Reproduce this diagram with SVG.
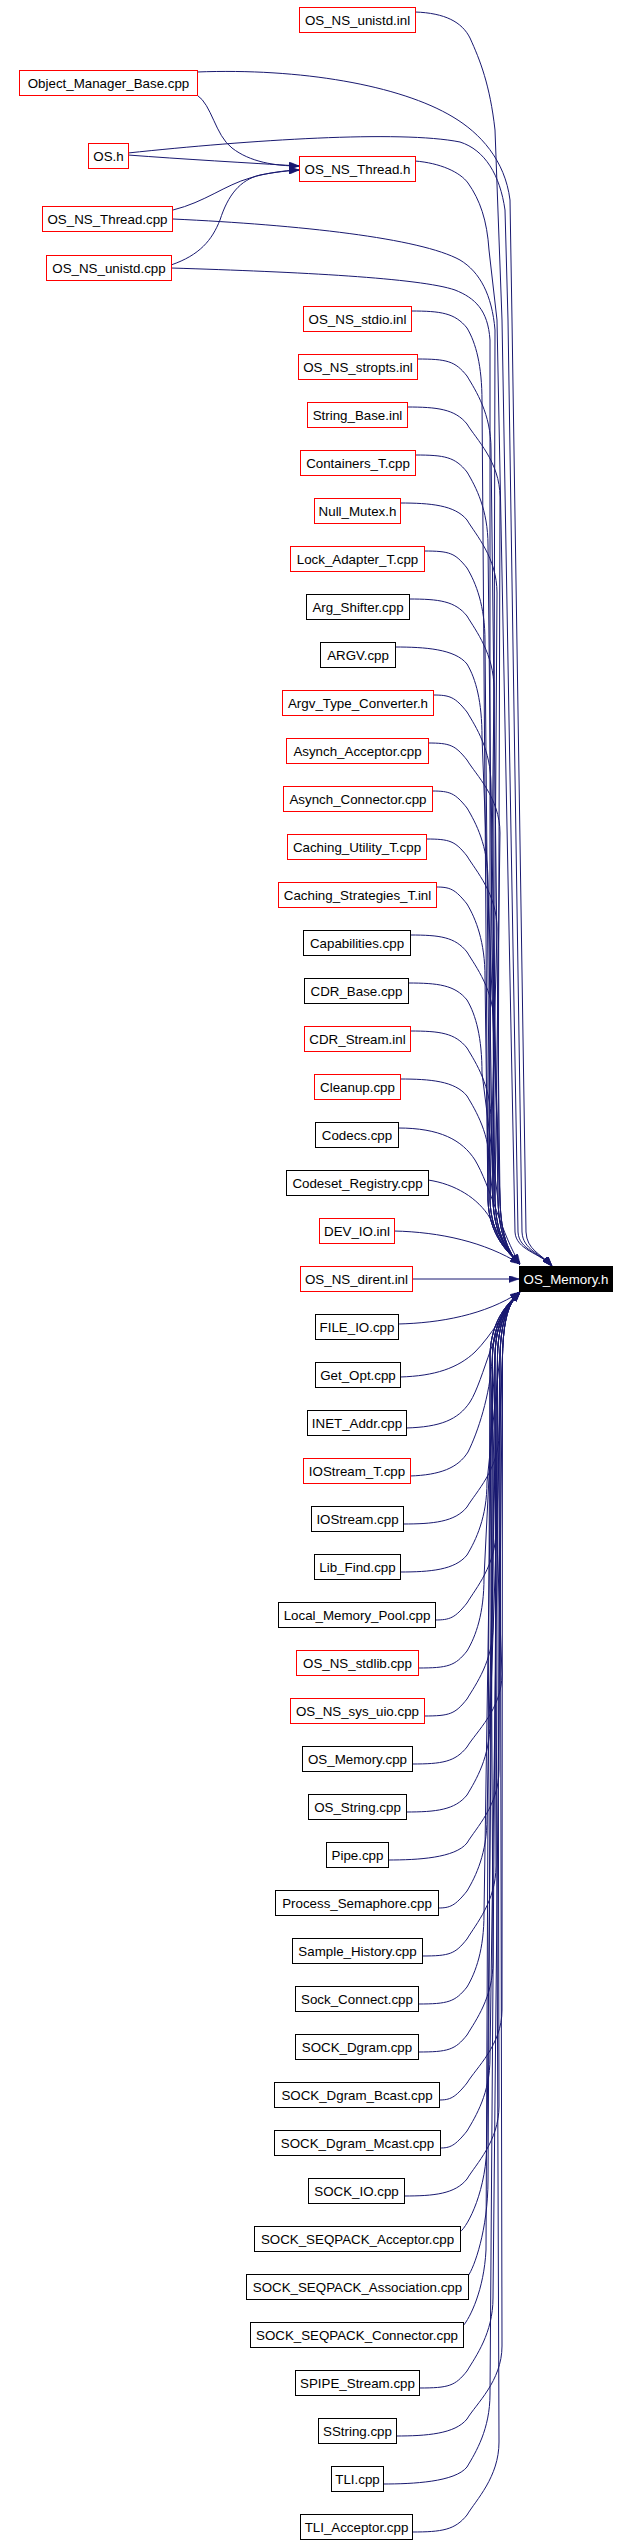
<svg xmlns="http://www.w3.org/2000/svg" width="630" height="2544" viewBox="0 0 630 2544">
<style>
.e{fill:none;stroke:#191970;stroke-width:1;marker-end:url(#ah)}
rect{fill:#fff;stroke:#000;stroke-width:1}
.r rect{stroke:#f00}
.k rect{fill:#000;stroke:#000}
text{font-family:"Liberation Sans",Arial,Helvetica,sans-serif;font-size:13.33px;text-anchor:middle;fill:#000}
.k text{fill:#fff}
</style>
<defs>
<marker id="ah" viewBox="0 0 10 7" refX="10" refY="3.5" markerWidth="10" markerHeight="7" markerUnits="userSpaceOnUse" orient="auto"><path d="M0,0 L10,3.5 L0,7 z" fill="#191970" stroke="#191970" stroke-width="0.5"/></marker>
</defs>
<rect x="0" y="0" width="630" height="2544" style="fill:#fff;stroke:none"/>
<g id="edges">
<path class="e" d="M197,95 C212,105 215,135 232,148 C250,162 275,166 299,166"/>
<path class="e" d="M128,155 C180,159 250,163 299,166"/>
<path class="e" d="M173,210 C205,202 225,185 250,178 C265,173 285,171 299,170"/>
<path class="e" d="M171,265 C200,255 212,240 220,220 C228,195 240,180 260,175 C275,172 290,170 299,170"/>
<path class="e" d="M415,12 C445,13 462,22 470,38 C480,60 490,85 495,130 L502,320 L518,1232 C519,1250 540,1253 552,1266"/>
<path class="e" d="M197,72 C300,68 400,85 453,117 C480,133 505,160 510,200 L512,320 L526,1232 C527,1250 540,1253 552,1266"/>
<path class="e" d="M128,153 C250,140 400,130 460,142 C485,150 500,175 505,210 L508,320 L522,1232 C523,1250 540,1253 552,1266"/>
<path class="e" d="M415,161 C440,163 460,172 468,183 C480,200 487,220 489,250 L497,320 L515,1232 C516,1250 540,1253 552,1266"/>
<path class="e" d="M173,219 C300,225 420,238 460,260 C480,272 492,295 495,330 L493,1200 C494,1235 508,1253 520,1264"/>
<path class="e" d="M171,268 C300,272 420,278 455,290 C475,298 488,310 490,340 L490,1200 C491,1235 508,1253 520,1264"/>
<path class="e" d="M411,311 C441,311 455,313 467,328 C476,343 482,366 482,401 L488,1200 C489,1235 508,1253 520,1264"/>
<path class="e" d="M417,359 C447,359 455,361 467,376 C476,391 491,414 491,449 L500,1200 C501,1235 508,1253 520,1264"/>
<path class="e" d="M407,407 C437,407 455,409 467,424 C476,439 500,462 500,497 L498,1200 C499,1235 508,1253 520,1264"/>
<path class="e" d="M415,455 C445,455 455,457 467,472 C476,487 488,510 488,545 L495,1200 C496,1235 508,1253 520,1264"/>
<path class="e" d="M400,503 C430,503 455,505 467,520 C476,535 497,558 497,593 L493,1200 C494,1235 508,1253 520,1264"/>
<path class="e" d="M424,551 C450,551 455,553 467,568 C476,583 485,606 485,641 L490,1200 C491,1235 508,1253 520,1264"/>
<path class="e" d="M409,599 C439,599 455,601 467,616 C476,631 494,654 494,689 L488,1200 C489,1235 508,1253 520,1264"/>
<path class="e" d="M395,647 C425,647 455,649 467,664 C476,679 482,702 482,737 L500,1200 C501,1235 508,1253 520,1264"/>
<path class="e" d="M433,695 C450,695 455,697 467,712 C476,727 491,750 491,785 L498,1200 C499,1235 508,1253 520,1264"/>
<path class="e" d="M428,743 C450,743 455,745 467,760 C476,775 500,798 500,833 L495,1200 C496,1235 508,1253 520,1264"/>
<path class="e" d="M432,791 C450,791 455,793 467,808 C476,823 488,846 488,881 L493,1200 C494,1235 508,1253 520,1264"/>
<path class="e" d="M426,839 C450,839 455,841 467,856 C476,871 497,894 497,929 L490,1200 C491,1235 508,1253 520,1264"/>
<path class="e" d="M436,887 C450,887 455,889 467,904 C476,919 485,942 485,977 L488,1200 C489,1235 508,1253 520,1264"/>
<path class="e" d="M410,935 C440,935 455,937 467,952 C476,967 494,990 494,1025 L500,1200 C501,1235 508,1253 520,1264"/>
<path class="e" d="M408,983 C438,983 455,985 467,1000 C476,1015 482,1038 482,1073 L498,1200 C499,1235 508,1253 520,1264"/>
<path class="e" d="M410,1031 C440,1031 455,1033 467,1048 C476,1063 491,1086 491,1121 L495,1200 C496,1235 508,1253 520,1264"/>
<path class="e" d="M400,1079 C430,1079 455,1081 467,1096 C476,1111 490,1134 490,1169 L493,1200 C494,1235 508,1253 520,1264"/>
<path class="e" d="M398,1128 C440,1128 462,1140 475,1160 C490,1185 502,1235 520,1264"/>
<path class="e" d="M428,1180 C455,1184 478,1198 490,1218 C498,1233 508,1252 520,1264"/>
<path class="e" d="M394,1231 C440,1232 485,1242 520,1264"/>
<path class="e" d="M412,1279 L519,1279"/>
<path class="e" d="M398,1324 C440,1323 485,1315 520,1292"/>
<path class="e" d="M400,1377 C435,1376 458,1368 475,1352 C492,1335 505,1310 520,1292"/>
<path class="e" d="M406,1428 C440,1427 458,1420 470,1402 C484,1380 495,1320 520,1292"/>
<path class="e" d="M410,1476 C440,1475 458,1468 468,1452 C478,1432 490,1395 492,1360 C494,1320 508,1303 520,1292"/>
<path class="e" d="M403,1524 C433,1524 455,1522 467,1507 C476,1492 499,1469 499,1434 L502.5,1355 C503.5,1320 508,1303 520,1292"/>
<path class="e" d="M400,1572 C430,1572 455,1570 467,1555 C476,1540 487,1517 487,1482 L500,1355 C501,1320 508,1303 520,1292"/>
<path class="e" d="M435,1620 C450,1620 455,1618 467,1603 C476,1588 496,1565 496,1530 L497.5,1355 C498.5,1320 508,1303 520,1292"/>
<path class="e" d="M418,1668 C448,1668 455,1666 467,1651 C476,1636 484,1613 484,1578 L495,1355 C496,1320 508,1303 520,1292"/>
<path class="e" d="M424,1716 C450,1716 455,1714 467,1699 C476,1684 493,1661 493,1626 L492.5,1355 C493.5,1320 508,1303 520,1292"/>
<path class="e" d="M412,1764 C442,1764 455,1762 467,1747 C476,1732 502,1709 502,1674 L490,1355 C491,1320 508,1303 520,1292"/>
<path class="e" d="M406,1812 C436,1812 455,1810 467,1795 C476,1780 490,1757 490,1722 L502.5,1355 C503.5,1320 508,1303 520,1292"/>
<path class="e" d="M388,1860 C418,1860 455,1858 467,1843 C476,1828 499,1805 499,1770 L500,1355 C501,1320 508,1303 520,1292"/>
<path class="e" d="M438,1908 C450,1908 455,1906 467,1891 C476,1876 487,1853 487,1818 L497.5,1355 C498.5,1320 508,1303 520,1292"/>
<path class="e" d="M422,1956 C450,1956 455,1954 467,1939 C476,1924 496,1901 496,1866 L495,1355 C496,1320 508,1303 520,1292"/>
<path class="e" d="M418,2004 C448,2004 455,2002 467,1987 C476,1972 484,1949 484,1914 L492.5,1355 C493.5,1320 508,1303 520,1292"/>
<path class="e" d="M418,2052 C448,2052 455,2050 467,2035 C476,2020 493,1997 493,1962 L490,1355 C491,1320 508,1303 520,1292"/>
<path class="e" d="M439,2100 C450,2100 455,2098 467,2083 C476,2068 502,2045 502,2010 L502.5,1355 C503.5,1320 508,1303 520,1292"/>
<path class="e" d="M440,2148 C450,2148 455,2146 467,2131 C476,2116 490,2093 490,2058 L500,1355 C501,1320 508,1303 520,1292"/>
<path class="e" d="M404,2196 C434,2196 455,2194 467,2179 C476,2164 499,2141 499,2106 L497.5,1355 C498.5,1320 508,1303 520,1292"/>
<path class="e" d="M460,2232 C468,2226 487,2190 487,2140 L495,1355 C496,1320 508,1303 520,1292"/>
<path class="e" d="M468,2276 C474,2268 488,2230 488,2180 L492.5,1355 C493.5,1320 508,1303 520,1292"/>
<path class="e" d="M463,2326 C470,2318 484,2290 486,2250 L490,1355 C491,1320 508,1303 520,1292"/>
<path class="e" d="M419,2388 C449,2388 455,2386 467,2371 C476,2356 493,2333 493,2298 L502.5,1355 C503.5,1320 508,1303 520,1292"/>
<path class="e" d="M396,2436 C426,2436 455,2434 467,2419 C476,2404 502,2381 502,2346 L500,1355 C501,1320 508,1303 520,1292"/>
<path class="e" d="M383,2484 C413,2484 455,2482 467,2467 C476,2452 490,2429 490,2394 L497.5,1355 C498.5,1320 508,1303 520,1292"/>
<path class="e" d="M412,2532 C442,2532 455,2530 467,2515 C476,2500 499,2477 499,2442 L495,1355 C496,1320 508,1303 520,1292"/>
</g>
<g id="OS_Memory_h" class="k"><rect x="519.5" y="1266.5" width="93" height="25"/><text x="566" y="1283.5">OS_Memory.h</text></g>
<g id="OS_NS_unistd_inl" class="r"><rect x="299.5" y="7.5" width="116" height="25"/><text x="357.5" y="24.5">OS_NS_unistd.inl</text></g>
<g id="Object_Manager_Base_cpp" class="r"><rect x="19.5" y="70.5" width="178" height="25"/><text x="108.5" y="87.5">Object_Manager_Base.cpp</text></g>
<g id="OS_h" class="r"><rect x="88.5" y="143.5" width="40" height="25"/><text x="108.5" y="160.5">OS.h</text></g>
<g id="OS_NS_Thread_h" class="r"><rect x="299.5" y="156.5" width="116" height="25"/><text x="357.5" y="173.5">OS_NS_Thread.h</text></g>
<g id="OS_NS_Thread_cpp" class="r"><rect x="42.5" y="206.5" width="130" height="25"/><text x="107.5" y="223.5">OS_NS_Thread.cpp</text></g>
<g id="OS_NS_unistd_cpp" class="r"><rect x="46.5" y="255.5" width="125" height="25"/><text x="109" y="272.5">OS_NS_unistd.cpp</text></g>
<g id="n0" class="r"><rect x="303.5" y="306.5" width="108" height="25"/><text x="357.5" y="323.5">OS_NS_stdio.inl</text></g>
<g id="n1" class="r"><rect x="298.5" y="354.5" width="119" height="25"/><text x="358" y="371.5">OS_NS_stropts.inl</text></g>
<g id="n2" class="r"><rect x="307.5" y="402.5" width="100" height="25"/><text x="357.5" y="419.5">String_Base.inl</text></g>
<g id="n3" class="r"><rect x="300.5" y="450.5" width="115" height="25"/><text x="358" y="467.5">Containers_T.cpp</text></g>
<g id="n4" class="r"><rect x="314.5" y="498.5" width="86" height="25"/><text x="357.5" y="515.5">Null_Mutex.h</text></g>
<g id="n5" class="r"><rect x="290.5" y="546.5" width="134" height="25"/><text x="357.5" y="563.5">Lock_Adapter_T.cpp</text></g>
<g id="n6"><rect x="306.5" y="594.5" width="103" height="25"/><text x="358" y="611.5">Arg_Shifter.cpp</text></g>
<g id="n7"><rect x="320.5" y="642.5" width="75" height="25"/><text x="358" y="659.5">ARGV.cpp</text></g>
<g id="n8" class="r"><rect x="282.5" y="690.5" width="151" height="25"/><text x="358" y="707.5">Argv_Type_Converter.h</text></g>
<g id="n9" class="r"><rect x="286.5" y="738.5" width="142" height="25"/><text x="357.5" y="755.5">Asynch_Acceptor.cpp</text></g>
<g id="n10" class="r"><rect x="283.5" y="786.5" width="149" height="25"/><text x="358" y="803.5">Asynch_Connector.cpp</text></g>
<g id="n11" class="r"><rect x="287.5" y="834.5" width="139" height="25"/><text x="357" y="851.5">Caching_Utility_T.cpp</text></g>
<g id="n12" class="r"><rect x="278.5" y="882.5" width="158" height="25"/><text x="357.5" y="899.5">Caching_Strategies_T.inl</text></g>
<g id="n13"><rect x="303.5" y="930.5" width="107" height="25"/><text x="357" y="947.5">Capabilities.cpp</text></g>
<g id="n14"><rect x="304.5" y="978.5" width="104" height="25"/><text x="356.5" y="995.5">CDR_Base.cpp</text></g>
<g id="n15" class="r"><rect x="304.5" y="1026.5" width="106" height="25"/><text x="357.5" y="1043.5">CDR_Stream.inl</text></g>
<g id="n16" class="r"><rect x="314.5" y="1074.5" width="86" height="25"/><text x="357.5" y="1091.5">Cleanup.cpp</text></g>
<g id="n17"><rect x="315.5" y="1122.5" width="83" height="25"/><text x="357" y="1139.5">Codecs.cpp</text></g>
<g id="n18"><rect x="286.5" y="1170.5" width="142" height="25"/><text x="357.5" y="1187.5">Codeset_Registry.cpp</text></g>
<g id="n19" class="r"><rect x="319.5" y="1218.5" width="75" height="25"/><text x="357" y="1235.5">DEV_IO.inl</text></g>
<g id="n20" class="r"><rect x="300.5" y="1266.5" width="112" height="25"/><text x="356.5" y="1283.5">OS_NS_dirent.inl</text></g>
<g id="n21"><rect x="315.5" y="1314.5" width="83" height="25"/><text x="357" y="1331.5">FILE_IO.cpp</text></g>
<g id="n22"><rect x="315.5" y="1362.5" width="85" height="25"/><text x="358" y="1379.5">Get_Opt.cpp</text></g>
<g id="n23"><rect x="307.5" y="1410.5" width="99" height="25"/><text x="357" y="1427.5">INET_Addr.cpp</text></g>
<g id="n24" class="r"><rect x="303.5" y="1458.5" width="107" height="25"/><text x="357" y="1475.5">IOStream_T.cpp</text></g>
<g id="n25"><rect x="311.5" y="1506.5" width="92" height="25"/><text x="357.5" y="1523.5">IOStream.cpp</text></g>
<g id="n26"><rect x="314.5" y="1554.5" width="86" height="25"/><text x="357.5" y="1571.5">Lib_Find.cpp</text></g>
<g id="n27"><rect x="278.5" y="1602.5" width="157" height="25"/><text x="357" y="1619.5">Local_Memory_Pool.cpp</text></g>
<g id="n28" class="r"><rect x="296.5" y="1650.5" width="122" height="25"/><text x="357.5" y="1667.5">OS_NS_stdlib.cpp</text></g>
<g id="n29" class="r"><rect x="290.5" y="1698.5" width="134" height="25"/><text x="357.5" y="1715.5">OS_NS_sys_uio.cpp</text></g>
<g id="n30"><rect x="302.5" y="1746.5" width="110" height="25"/><text x="357.5" y="1763.5">OS_Memory.cpp</text></g>
<g id="n31"><rect x="308.5" y="1794.5" width="98" height="25"/><text x="357.5" y="1811.5">OS_String.cpp</text></g>
<g id="n32"><rect x="326.5" y="1842.5" width="62" height="25"/><text x="357.5" y="1859.5">Pipe.cpp</text></g>
<g id="n33"><rect x="275.5" y="1890.5" width="163" height="25"/><text x="357" y="1907.5">Process_Semaphore.cpp</text></g>
<g id="n34"><rect x="292.5" y="1938.5" width="130" height="25"/><text x="357.5" y="1955.5">Sample_History.cpp</text></g>
<g id="n35"><rect x="295.5" y="1986.5" width="123" height="25"/><text x="357" y="2003.5">Sock_Connect.cpp</text></g>
<g id="n36"><rect x="295.5" y="2034.5" width="123" height="25"/><text x="357" y="2051.5">SOCK_Dgram.cpp</text></g>
<g id="n37"><rect x="274.5" y="2082.5" width="165" height="25"/><text x="357" y="2099.5">SOCK_Dgram_Bcast.cpp</text></g>
<g id="n38"><rect x="274.5" y="2130.5" width="166" height="25"/><text x="357.5" y="2147.5">SOCK_Dgram_Mcast.cpp</text></g>
<g id="n39"><rect x="308.5" y="2178.5" width="96" height="25"/><text x="356.5" y="2195.5">SOCK_IO.cpp</text></g>
<g id="n40"><rect x="254.5" y="2226.5" width="206" height="25"/><text x="357.5" y="2243.5">SOCK_SEQPACK_Acceptor.cpp</text></g>
<g id="n41"><rect x="246.5" y="2274.5" width="222" height="25"/><text x="357.5" y="2291.5">SOCK_SEQPACK_Association.cpp</text></g>
<g id="n42"><rect x="250.5" y="2322.5" width="213" height="25"/><text x="357" y="2339.5">SOCK_SEQPACK_Connector.cpp</text></g>
<g id="n43"><rect x="295.5" y="2370.5" width="124" height="25"/><text x="357.5" y="2387.5">SPIPE_Stream.cpp</text></g>
<g id="n44"><rect x="318.5" y="2418.5" width="78" height="25"/><text x="357.5" y="2435.5">SString.cpp</text></g>
<g id="n45"><rect x="331.5" y="2466.5" width="52" height="25"/><text x="357.5" y="2483.5">TLI.cpp</text></g>
<g id="n46"><rect x="300.5" y="2514.5" width="112" height="25"/><text x="356.5" y="2531.5">TLI_Acceptor.cpp</text></g>
</svg>
